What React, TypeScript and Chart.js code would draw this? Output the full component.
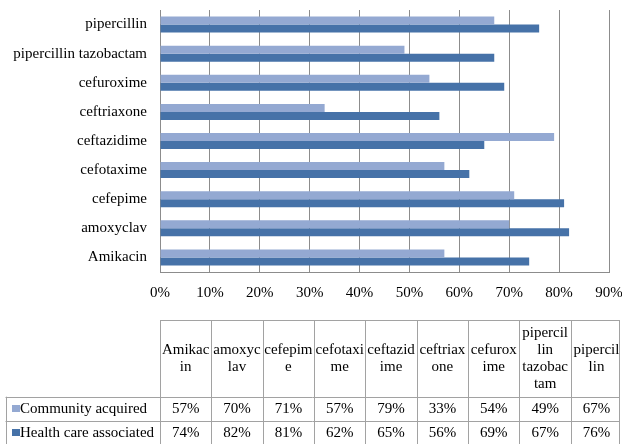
import React, { useEffect, useRef } from "react";
import { Chart, registerables } from "chart.js";

Chart.register(...registerables);

// Antibiotics in table order (left to right); the bar chart lists them bottom to top.
const categories = [
  "Amikacin",
  "amoxyclav",
  "cefepime",
  "cefotaxime",
  "ceftazidime",
  "ceftriaxone",
  "cefuroxime",
  "pipercillin tazobactam",
  "pipercillin",
];

const seriesNames = ["Community acquired", "Health care associated"];
const communityAcquired = [57, 70, 71, 57, 79, 33, 54, 49, 67];
const healthCareAssociated = [74, 82, 81, 62, 65, 56, 69, 67, 76];

const xTickValues = [0, 10, 20, 30, 40, 50, 60, 70, 80, 90];

const LIGHT = "#94A9D2";
const DARK = "#4672A8";
const FONT_FAMILY = "'Liberation Serif', 'Times New Roman', serif";
const GRID = "#8c8c8c";
const TABLE_LINE = "#a2a2a2";

// Greedy word wrap that falls back to breaking inside a word when it is too long.
function wrapText(ctx: CanvasRenderingContext2D, text: string, maxWidth: number): string[] {
  const lines: string[] = [];
  let current = "";
  for (const word of text.split(" ")) {
    const candidate = current ? current + " " + word : word;
    if (ctx.measureText(candidate).width <= maxWidth) {
      current = candidate;
      continue;
    }
    if (current) lines.push(current);
    current = "";
    let piece = "";
    for (const ch of word) {
      if (ctx.measureText(piece + ch).width <= maxWidth) {
        piece += ch;
      } else {
        lines.push(piece);
        piece = ch;
      }
    }
    current = piece;
  }
  if (current) lines.push(current);
  return lines;
}

const dataTablePlugin = {
  id: "dataTable",
  afterDraw(chart: Chart) {
    const ctx = chart.ctx;
    const top = 320;
    const headerBottom = 396.7;
    const rowBottoms = [420.5, 444.3];
    const labelLeft = 5.5;
    const colLeft = 160;
    const colWidth = 51.35;
    const right = 619.5;
    const series = [communityAcquired, healthCareAssociated];
    const colors = [LIGHT, DARK];

    ctx.save();
    ctx.strokeStyle = TABLE_LINE;
    ctx.lineWidth = 1;
    const hLine = (y: number, x0: number, x1: number) => {
      ctx.beginPath();
      ctx.moveTo(x0, Math.round(y) + 0.5);
      ctx.lineTo(x1, Math.round(y) + 0.5);
      ctx.stroke();
    };
    const vLine = (x: number, y0: number, y1: number) => {
      ctx.beginPath();
      ctx.moveTo(Math.round(x) + 0.5, y0);
      ctx.lineTo(Math.round(x) + 0.5, y1);
      ctx.stroke();
    };

    hLine(top, colLeft, right);
    hLine(headerBottom, labelLeft, right);
    hLine(rowBottoms[0], labelLeft, right);
    hLine(rowBottoms[1], labelLeft, right);
    vLine(labelLeft, headerBottom, rowBottoms[1]);
    for (let i = 0; i < categories.length; i++) {
      vLine(colLeft + i * colWidth, top, rowBottoms[1]);
    }
    vLine(right - 0.5, top, rowBottoms[1]);

    ctx.fillStyle = "#000";
    ctx.font = "15px " + FONT_FAMILY;
    ctx.textBaseline = "middle";
    ctx.textAlign = "center";

    // Column headers, wrapped to the cell width and centred vertically.
    const lineHeight = 17;
    const headerMid = (top + headerBottom) / 2;
    categories.forEach((name, i) => {
      const lines = wrapText(ctx, name, 49.3);
      const cx = colLeft + i * colWidth + colWidth / 2;
      const y0 = headerMid - ((lines.length - 1) * lineHeight) / 2;
      lines.forEach((line, j) => ctx.fillText(line, cx, y0 + j * lineHeight));
    });

    // Series rows: legend key, name and the value for each antibiotic.
    const rowTops = [headerBottom, rowBottoms[0]];
    series.forEach((values, r) => {
      const mid = (rowTops[r] + rowBottoms[r]) / 2 + 0.5;
      ctx.fillStyle = colors[r];
      ctx.fillRect(12, Math.round(mid - 4), 8, 7);
      ctx.fillStyle = "#000";
      ctx.textAlign = "left";
      ctx.fillText(seriesNames[r], 20, mid);
      ctx.textAlign = "center";
      values.forEach((v, i) => {
        ctx.fillText(v + "%", colLeft + i * colWidth + colWidth / 2, mid);
      });
    });
    ctx.restore();
  },
};

export default function App() {
  const canvasRef = useRef<HTMLCanvasElement | null>(null);

  useEffect(() => {
    if (!canvasRef.current) return;
    const labels = [...categories].reverse();
    const chart = new Chart(canvasRef.current, {
      type: "bar",
      data: {
        labels,
        datasets: [
          {
            label: seriesNames[0],
            data: [...communityAcquired].reverse(),
            backgroundColor: LIGHT,
            barPercentage: 1,
            categoryPercentage: 0.55,
          },
          {
            label: seriesNames[1],
            data: [...healthCareAssociated].reverse(),
            backgroundColor: DARK,
            barPercentage: 1,
            categoryPercentage: 0.55,
          },
        ],
      },
      options: {
        indexAxis: "y",
        responsive: false,
        animation: false,
        layout: { padding: { top: 10, right: 13, bottom: 130, left: 0 } },
        plugins: {
          legend: { display: false },
          tooltip: { enabled: false },
        },
        scales: {
          x: {
            min: xTickValues[0],
            max: xTickValues[xTickValues.length - 1],
            afterBuildTicks: (scale: any) => {
              scale.ticks = xTickValues.map((v) => ({ value: v }));
            },
            afterFit: (scale: any) => {
              scale.paddingLeft = 0;
              scale.paddingRight = 0;
            },
            ticks: {
              callback: (v: any) => v + "%",
              font: { family: FONT_FAMILY, size: 15 },
              color: "#000",
              padding: 12,
              maxRotation: 0,
            },
            grid: { color: GRID, drawTicks: false },
            border: { display: true, color: GRID },
          },
          y: {
            afterFit: (scale: any) => {
              scale.width = 160;
              scale.paddingTop = 0;
              scale.paddingBottom = 0;
            },
            ticks: {
              font: { family: FONT_FAMILY, size: 15 },
              color: "#000",
              padding: 13,
            },
            grid: { display: false, drawTicks: false },
            border: { display: true, color: GRID },
          },
        },
      },
      plugins: [dataTablePlugin],
    });
    return () => chart.destroy();
  }, []);

  return (
    <div style={{ position: "fixed", left: 0, top: 0, width: 622, height: 444, background: "#fff" }}>
      <canvas ref={canvasRef} width={622} height={444} />
    </div>
  );
}
